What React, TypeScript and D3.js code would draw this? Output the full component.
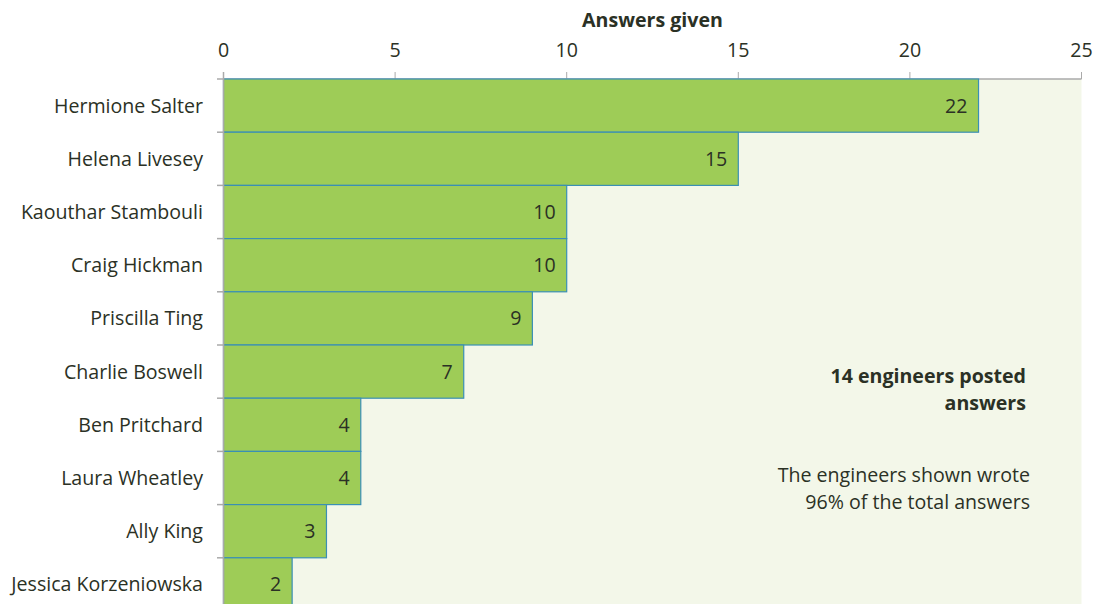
import React from "react";
import * as d3 from "d3";

const names = [
  "Hermione Salter",
  "Helena Livesey",
  "Kaouthar Stambouli",
  "Craig Hickman",
  "Priscilla Ting",
  "Charlie Boswell",
  "Ben Pritchard",
  "Laura Wheatley",
  "Ally King",
  "Jessica Korzeniowska",
];
const answers = [22, 15, 10, 10, 9, 7, 4, 4, 3, 2];
const xTicks = [0, 5, 10, 15, 20, 25];
const axisTitle = "Answers given";
const noteBold = ["14 engineers posted", "answers"];
const noteRegular = ["The engineers shown wrote", "96% of the total answers"];

const W = 1098;
const H = 604;
const FONT = "'Open Sans', 'Noto Sans', sans-serif";
const TEXT = "#2b3125";
const FS = 19.6;

export default function App() {
  const x = d3.scaleLinear().domain([0, 25]).range([223.5, 1081.5]);
  const y = d3.scaleBand<string>().domain(names).range([79, 611]).padding(0);
  const bw = y.bandwidth();

  return (
    <svg
      width={W}
      height={H}
      style={{ position: "absolute", left: 0, top: 0, background: "#fff" }}
      fontFamily={FONT}
    >
      <rect x={x(0)} y={79} width={x(25) - x(0)} height={H - 79} fill="#f3f7e9" />
      <text x={(x(0) + x(25)) / 2} y={27} textAnchor="middle" fontWeight={700} fontSize={FS} fill={TEXT}>
        {axisTitle}
      </text>
      {xTicks.map((t) => (
        <g key={t}>
          <line x1={x(t)} x2={x(t)} y1={72} y2={79} stroke="#aaaaaa" strokeWidth={1} />
          <text x={x(t)} y={57} textAnchor="middle" fontSize={FS} fill={TEXT}>
            {t}
          </text>
        </g>
      ))}
      <line x1={x(0)} x2={x(25)} y1={79} y2={79} stroke="#aaaaaa" strokeWidth={1.5} />
      {names.map((n, i) => (
        <g key={n}>
          <rect
            x={x(0)}
            y={y(n)!}
            width={x(answers[i]) - x(0)}
            height={bw}
            fill="#9ecc57"
            stroke="#3a8fb5"
            strokeWidth={1.2}
          />
          <text
            x={x(answers[i]) - 11}
            y={y(n)! + bw / 2 + 7}
            textAnchor="end"
            fontSize={FS}
            fill={TEXT}
          >
            {answers[i]}
          </text>
          <text x={203} y={y(n)! + bw / 2 + 7} textAnchor="end" fontSize={FS} fill={TEXT}>
            {n}
          </text>
          <line x1={217} x2={223.5} y1={y(n)!} y2={y(n)!} stroke="#aaaaaa" strokeWidth={1.5} />
        </g>
      ))}
      <line x1={x(0)} x2={x(0)} y1={72} y2={H} stroke="#aaaaaa" strokeWidth={1.5} />
      {noteBold.map((s, i) => (
        <text key={s} x={1026} y={383 + i * 27} textAnchor="end" fontWeight={700} fontSize={FS} fill={TEXT}>
          {s}
        </text>
      ))}
      {noteRegular.map((s, i) => (
        <text key={s} x={1030} y={482 + i * 27} textAnchor="end" fontSize={FS} fill={TEXT}>
          {s}
        </text>
      ))}
    </svg>
  );
}
